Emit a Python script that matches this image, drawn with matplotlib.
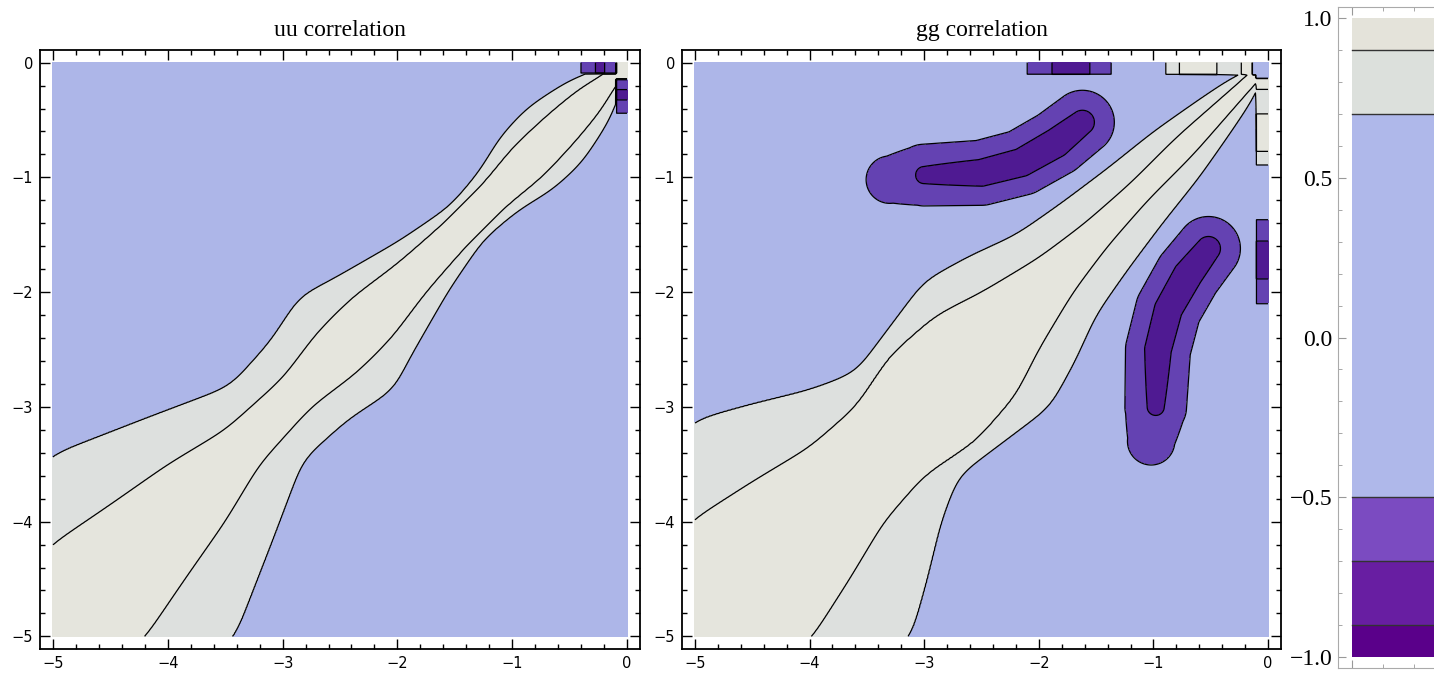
import numpy as np
import matplotlib
matplotlib.use("Agg")
import matplotlib.pyplot as plt
from matplotlib.ticker import MultipleLocator

# contour levels and fill colours (panels are a bit darker than the legend bar)
levels = [-1.0, -0.9, -0.7, -0.5, 0.7, 0.9, 1.0]
panel_colors = ["#44087e", "#4f1a92", "#6442b2", "#adb6e8", "#dde0de", "#e5e5dd"]
bar_colors = ["#5a008a", "#681ea2", "#7b4bc1", "#afb8ea", "#dce0dc", "#e4e3da"]

# --- uu correlation: 0.7 and 0.9 contours traced above the diagonal ---
uu_c07_x = [-5.0, -4.15, -3.46, -3.11, -2.85, -2.59, -1.98, -1.54, -1.28, -1.11, -0.87, -0.50, -0.15]
uu_c07_y = [-3.41, -3.08, -2.82, -2.43, -2.03, -1.90, -1.55, -1.25, -0.94, -0.65, -0.39, -0.15, -0.02]
uu_c09_x = [-5.0, -4.5, -4.0, -3.5, -3.0, -2.7, -2.4, -2.0, -1.6, -1.25, -1.0, -0.7, -0.41, -0.15]
uu_c09_y = [-4.19, -3.85, -3.5, -3.2, -2.75, -2.35, -2.05, -1.75, -1.4, -1.05, -0.74, -0.46, -0.22, -0.07]
# cells along the y=0 row and the x=0 column
uu_top_cuts = [-5.0, -0.41, -0.28, -0.19, -0.09]
uu_top_vals = [0.3, -0.6, -0.8, -0.6, 0.95]
uu_right_cuts = [-5.0, -0.44, -0.33, -0.24, -0.14]
uu_right_vals = [0.3, -0.6, -0.8, -0.6, 0.95]
uu_corner = 0.95
uu_strip = 0.09

# --- gg correlation ---
gg_c07_x = [-5.0, -4.5, -4.0, -3.6, -3.3, -3.0, -2.6, -2.2, -1.8, -1.4, -1.0, -0.6, -0.3, -0.12]
gg_c07_y = [-3.11, -2.97, -2.85, -2.7, -2.3, -1.9, -1.68, -1.5, -1.22, -0.92, -0.6, -0.32, -0.12, -0.05]
gg_c09_x = [-5.0, -4.5, -4.0, -3.6, -3.3, -2.9, -2.5, -2.0, -1.6, -1.2, -0.8, -0.4, -0.15]
gg_c09_y = [-3.97, -3.65, -3.35, -3.0, -2.55, -2.2, -2.0, -1.7, -1.4, -1.05, -0.65, -0.3, -0.08]
# anticorrelated lobe (upper one; the lower one is its mirror)
gg_lobe_x = [-3.3, -3.0, -2.5, -2.15, -1.85, -1.62]
gg_lobe_y = [-1.02, -0.98, -0.96, -0.87, -0.7, -0.52]
gg_lobe_depth = [0.62, 0.72, 0.75, 0.755, 0.76, 0.74]
gg_top_cuts = [-5.0, -2.10, -1.88, -1.55, -1.36, -0.90, -0.77, -0.44, -0.24, -0.13]
gg_top_vals = [0.3, -0.6, -0.8, -0.6, 0.3, 0.8, 0.95, 0.8, 0.95, 0.3]
gg_corner = 0.3
gg_strip = 0.11

bar_ticks = [-1.0, -0.5, 0.0, 0.5, 1.0]
axis_ticks = [-5, -4, -3, -2, -1, 0]


def half_width(s, cx, cy, smooth=0.08):
    s_pts = (np.array(cx) + np.array(cy)) / 2
    h_pts = (np.array(cy) - np.array(cx)) / 2
    sg = np.arange(-5.5, 0.5, 0.005)
    hg = np.interp(sg, s_pts, h_pts)
    # soften the corners of the traced polyline
    n = int(3 * smooth / 0.005)
    k = np.exp(-0.5 * (np.arange(-n, n + 1) * 0.005 / smooth) ** 2)
    hg = np.convolve(np.pad(hg, n, mode="edge"), k / k.sum(), mode="valid")
    return np.interp(s, sg, hg)


def band_field(X, Y, c07x, c07y, c09x, c09y, tail=0.2, far=0.3):
    s = (X + Y) / 2
    a = np.abs(Y - X) / 2
    h9 = np.maximum(half_width(s, c09x, c09y), 1e-3)
    h7 = np.maximum(half_width(s, c07x, c07y), h9 + 1e-3)
    z = np.where(a <= h9, 1 - 0.1 * a / h9,
                 np.where(a <= h7, 0.9 - 0.2 * (a - h9) / (h7 - h9),
                          np.maximum(0.7 - (0.7 - far) * (a - h7) / tail, far)))
    return z


def lobe_field(X, Y, lx, ly, depth, sigma=0.315):
    out = np.zeros_like(X)
    for i in range(len(lx) - 1):
        dx, dy = lx[i + 1] - lx[i], ly[i + 1] - ly[i]
        t = np.clip(((X - lx[i]) * dx + (Y - ly[i]) * dy) / (dx * dx + dy * dy), 0, 1)
        d2 = (X - lx[i] - t * dx) ** 2 + (Y - ly[i] - t * dy) ** 2
        amp = depth[i] + t * (depth[i + 1] - depth[i])
        out = np.minimum(out, -amp * np.exp(-d2 / (2 * sigma ** 2)))
    return out


def edge_cells(coord, cuts, vals):
    idx = np.clip(np.searchsorted(cuts, coord, side="right") - 1, 0, len(vals) - 1)
    return np.array(vals)[idx]


def apply_edges(Z, X, Y, top_cuts, top_vals, right_cuts, right_vals, corner, strip):
    top = Y > -strip
    right = X > -strip
    Z = np.where(top, edge_cells(X, top_cuts, top_vals), Z)
    Z = np.where(right, edge_cells(Y, right_cuts, right_vals), Z)
    Z = np.where(top & right, corner, Z)
    return Z


g = np.linspace(-5, 0, 501)
X, Y = np.meshgrid(g, g)

Z_uu = band_field(X, Y, uu_c07_x, uu_c07_y, uu_c09_x, uu_c09_y)
Z_uu = apply_edges(Z_uu, X, Y, uu_top_cuts, uu_top_vals,
                   uu_right_cuts, uu_right_vals, uu_corner, uu_strip)

Z_gg = band_field(X, Y, gg_c07_x, gg_c07_y, gg_c09_x, gg_c09_y)
lobe = np.minimum(lobe_field(X, Y, gg_lobe_x, gg_lobe_y, gg_lobe_depth),
                  lobe_field(X, Y, gg_lobe_y, gg_lobe_x, gg_lobe_depth))
Z_gg = np.where(lobe < -0.45, lobe, Z_gg)
Z_gg = apply_edges(Z_gg, X, Y, gg_top_cuts, gg_top_vals,
                   gg_top_cuts, gg_top_vals, gg_corner, gg_strip)

W, H = 1434, 675
fig = plt.figure(figsize=(W / 100, H / 100), dpi=100)
fig.patch.set_facecolor("white")


def px_axes(x0, y0, x1, y1):
    return fig.add_axes([x0 / W, 1 - y1 / H, (x1 - x0) / W, (y1 - y0) / H])


def draw_panel(ax, Z, title):
    ax.contourf(X, Y, Z, levels=levels, colors=panel_colors)
    ax.contour(X, Y, Z, levels=levels[1:-1], colors="black", linewidths=0.9,
               linestyles="solid")
    ax.set_xlim(-5.113, 0.113)
    ax.set_ylim(-5.11, 0.11)
    ax.set_xticks(axis_ticks)
    ax.set_yticks(axis_ticks)
    labels = [str(t).replace("-", "\u2212") for t in axis_ticks]
    ax.set_xticklabels(labels)
    ax.set_yticklabels(labels)
    ax.xaxis.set_minor_locator(MultipleLocator(0.2))
    ax.yaxis.set_minor_locator(MultipleLocator(0.2))
    ax.tick_params(which="both", direction="in", top=True, right=True,
                   width=1, labelsize=10.5, pad=5)
    ax.tick_params(which="major", length=7)
    ax.tick_params(which="minor", length=3.5)
    for sp in ax.spines.values():
        sp.set_linewidth(1.3)
    ax.set_title(title, family="Liberation Serif", fontsize=17, pad=10)


ax1 = px_axes(40, 50, 640, 649)
draw_panel(ax1, Z_uu, "uu correlation")
ax2 = px_axes(682, 50, 1281, 649)
draw_panel(ax2, Z_gg, "gg correlation")

# legend bar, cut off at the right edge as in the original
axc = px_axes(1338, 7, 1720, 668)
by = np.linspace(-1, 1, 401)
bx = np.array([0.0, 2.0])
BX, BY = np.meshgrid(bx, by)
axc.contourf(BX, BY, BY, levels=levels, colors=bar_colors)
for lv in levels[1:-1]:
    axc.axhline(lv, xmin=0.037, color="#333333", linewidth=1)
axc.set_xlim(-0.045, 1.19)
axc.set_ylim(-1.034, 1.034)
axc.set_yticks(bar_ticks)
axc.set_yticklabels(["\u22121.0", "\u22120.5", "0.0", "0.5", "1.0"],
                    family="Liberation Serif", fontsize=17)
axc.yaxis.set_minor_locator(MultipleLocator(0.1))
axc.set_xticks([0.0])
axc.set_xticklabels([])
axc.xaxis.set_minor_locator(MultipleLocator(0.1))
axc.tick_params(which="both", direction="in", top=True, color="#999999", pad=4)
axc.tick_params(which="major", length=6)
axc.tick_params(which="minor", length=3)
for sp in axc.spines.values():
    sp.set_color("#aaaaaa")

fig.savefig("out.png", dpi=100)
